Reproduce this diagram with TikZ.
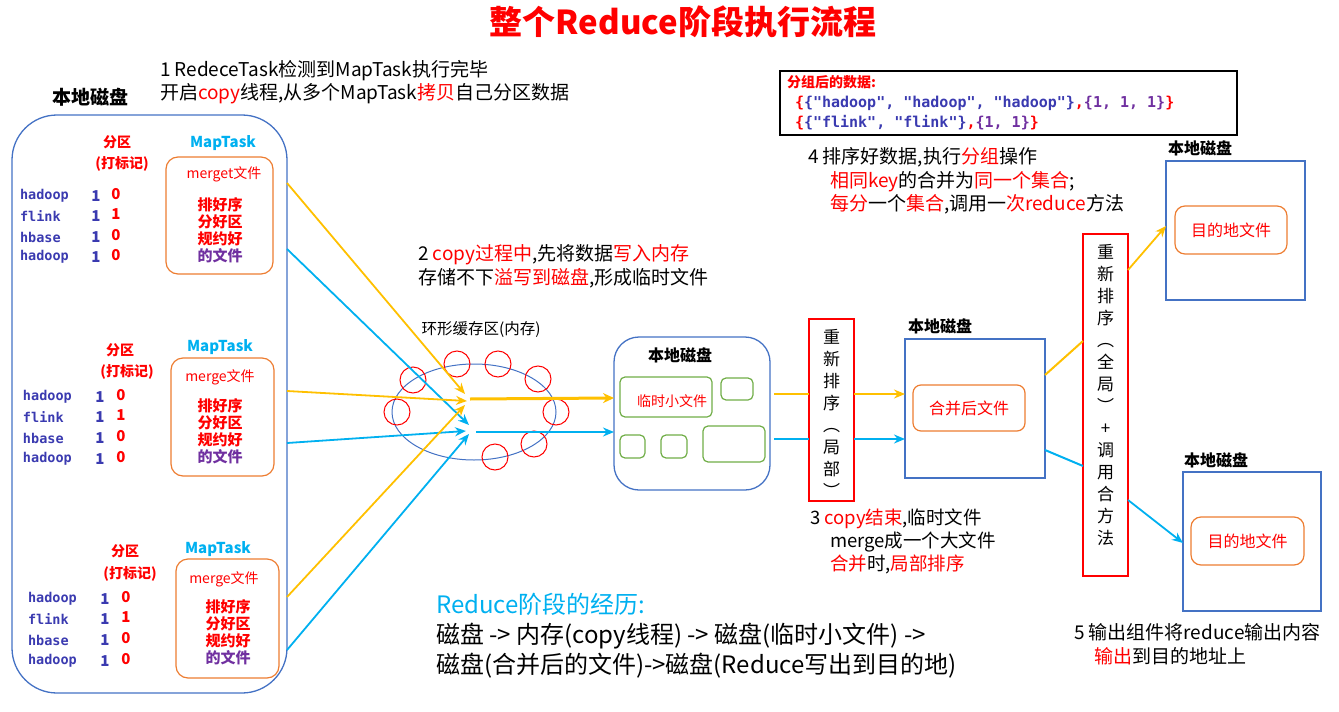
\documentclass[tikz,border=0pt]{standalone}
\usepackage{fontspec}
\setmainfont{Noto Sans CJK SC}
\newfontfamily\mono{DejaVu Sans Mono}
\usetikzlibrary{arrows.meta,shapes.geometric}
\definecolor{cblue}{HTML}{4472C4}
\definecolor{cyanb}{HTML}{00B0F0}
\definecolor{yel}{HTML}{FFC000}
\definecolor{org}{HTML}{ED7D31}
\definecolor{grn}{HTML}{70AD47}
\definecolor{lblue}{HTML}{3A3AB0}
\definecolor{purp}{HTML}{7030A0}
\begin{document}
\begin{tikzpicture}[x=1pt,y=-1pt,
  every node/.style={inner sep=0pt,outer sep=0pt},
  steptxt/.style={anchor=west,align=left,font=\fontsize{19}{23.5}\selectfont},
  bluebox/.style={draw=cblue,line width=1.3pt},
  orbox/.style={draw=org,line width=1.2pt,rounded corners=12pt},
  grbox/.style={draw=grn,line width=1.2pt,rounded corners=5pt},
  rbox/.style={draw=red,line width=1.2pt},
  ringc/.style={circle,draw=red,line width=1pt,minimum size=26pt},
  ya/.style={draw=yel,line width=1.8pt,-{Stealth[length=11pt,width=9pt]}},
  ba/.style={draw=cyanb,line width=1.8pt,-{Stealth[length=11pt,width=9pt]}},
  yl/.style={draw=yel,line width=2pt},
  bl/.style={draw=cyanb,line width=2pt},
  diskl/.style={font=\fontsize{16}{18}\selectfont\bfseries},
  lw/.style={anchor=west,text=lblue,font={\mono\fontsize{13.5}{15}\selectfont\bfseries}},
  lone/.style={text=lblue,font=\fontsize{15}{16}\selectfont\bfseries},
  lzero/.style={text=red,font=\fontsize{15}{16}\selectfont\bfseries},
  fq/.style={text=red,font=\fontsize{14}{16}\selectfont\bfseries},
  mtl/.style={text=cyanb,font=\fontsize{15}{17}\selectfont\bfseries},
  mfl/.style={text=red,font=\fontsize{14}{16}\selectfont},
  stk/.style={align=center,text=red,font=\fontsize{15}{17}\selectfont\bfseries},
  vtxt/.style={align=center,font=\fontsize{17}{22}\selectfont},
  codel/.style={anchor=west,font={\mono\fontsize{15}{16}\selectfont\bfseries}}
]
\useasboundingbox (0,0) rectangle (1339,712);

% title
\node[font=\fontsize{33}{36}\selectfont\bfseries,text=red] (title) at (683,22) {整个Reduce阶段执行流程};

% step 1
\node[steptxt] (s1) at (160,82) {1 RedeceTask检测到MapTask执行完毕\\开启\textcolor{red}{copy}线程,从多个MapTask\textcolor{red}{拷贝}自己分区数据};

% left disk
\node[font=\fontsize{19}{22}\selectfont\bfseries] (ldl) at (90,97) {本地磁盘};
\node[bluebox,rounded corners=45pt,minimum width=275pt,minimum height=578pt] (ldisk) at (149.5,404) {};

% group labels
\node[fq] (fq1) at (117,142) {分区};
\node[fq] (bj1) at (122,164) {(打标记)};
\node[mtl] (mt1) at (223,143) {MapTask};
\node[orbox,minimum width=107pt,minimum height=117pt] (mb1) at (219.5,215.5) {};
\node[mfl] (mf1) at (224,174) {merget文件};
\node[stk] (sk1) at (220,230) {排好序\\分好区\\规约好\\\textcolor{purp}{的文件}};

\node[fq] (fq2) at (120,350) {分区};
\node[fq] (bj2) at (127,372) {(打标记)};
\node[mtl] (mt2) at (220,347) {MapTask};
\node[orbox,minimum width=103pt,minimum height=118pt] (mb2) at (222.5,417) {};
\node[mfl] (mf2) at (220,377) {merge文件};
\node[stk] (sk2) at (220,431.5) {排好序\\分好区\\规约好\\\textcolor{purp}{的文件}};

\node[fq] (fq3) at (125,551) {分区};
\node[fq] (bj3) at (130,574) {(打标记)};
\node[mtl] (mt3) at (218,549) {MapTask};
\node[orbox,minimum width=103pt,minimum height=119pt] (mb3) at (227.5,618.5) {};
\node[mfl] (mf3) at (224,579) {merge文件};
\node[stk] (sk3) at (228,632.5) {排好序\\分好区\\规约好\\\textcolor{purp}{的文件}};

\foreach \nm/\w/\v/\xx/\xo/\xz/\yy in {
  a1/hadoop/0/20/96/116/196, a2/flink/1/20/96/116/216, a3/hbase/0/20/96/116/237, a4/hadoop/0/20/96/116/257,
  b1/hadoop/0/23/100/121/397, b2/flink/1/23/100/121/417, b3/hbase/0/23/100/121/438, b4/hadoop/0/23/100/121/459,
  c1/hadoop/0/28/105/126/599, c2/flink/1/28/105/126/619, c3/hbase/0/28/105/126/640, c4/hadoop/0/28/105/126/661}{
  \node[lw] (w\nm) at (\xx,\yy) {\w};
  \node[lone] (o\nm) at (\xo,\yy) {1};
  \node[lzero] (z\nm) at (\xz,\yy-2) {\v};
}

% step 2
\node[steptxt] (s2) at (418,266.5) {2 \textcolor{red}{copy过程中},先将数据\textcolor{red}{写入内存}\\存储不下\textcolor{red}{溢写到磁盘},形成临时文件};

% ring buffer
\node[font=\fontsize{15.5}{18}\selectfont] (rl) at (481,330) {环形缓存区(内存)};
\node[ellipse,draw=cblue,line width=1pt,minimum width=164pt,minimum height=96pt] (ring) at (474,412) {};
\node[ringc] (rc1) at (413,380) {};
\node[ringc] (rc2) at (397,412) {};
\node[ringc] (rc3) at (457,364) {};
\node[ringc] (rc4) at (498,364) {};
\node[ringc] (rc5) at (538,379) {};
\node[ringc] (rc6) at (556,412) {};
\node[ringc] (rc7) at (534,444) {};
\node[ringc] (rc8) at (495,457) {};

% arrows into ring
\coordinate (s1y) at (287,183); \coordinate (s1b) at (287,249);
\coordinate (s2y) at (287,391); \coordinate (s2b) at (287,443);
\coordinate (s3y) at (287,597); \coordinate (s3b) at (287,650);
\coordinate (e1y) at (465,394); \coordinate (e2y) at (467,401); \coordinate (e3y) at (465,405);
\coordinate (e1b) at (469,425); \coordinate (e2b) at (466,431); \coordinate (e3b) at (469,434);
\draw[ya] (s1y) -- (e1y);
\draw[ba] (s1b) -- (e1b);
\draw[ya] (s2y) -- (e2y);
\draw[ba] (s2b) -- (e2b);
\draw[ya] (s3y) -- (e3y);
\draw[ba] (s3b) -- (e3b);

% middle disk
\node[bluebox,rounded corners=25pt,minimum width=156pt,minimum height=153pt] (md) at (692,413.5) {};
\node[diskl] (mdl) at (680,355) {本地磁盘};
\node[grbox,minimum width=92pt,minimum height=40pt] (t1) at (666,397) {};
\node[text=red,font=\fontsize{14}{16}\selectfont] (t1l) at (672,401) {临时小文件};
\node[grbox,minimum width=32pt,minimum height=22pt] (t2) at (737,389) {};
\node[grbox,minimum width=25pt,minimum height=23pt] (t3) at (632.5,446.5) {};
\node[grbox,minimum width=26pt,minimum height=23pt] (t4) at (674,446.5) {};
\node[grbox,minimum width=62pt,minimum height=36pt] (t5) at (734,444) {};

% ring to middle disk
\coordinate (o1) at (470,399); \coordinate (o2) at (476,432);
\draw[draw=yel,line width=3pt,-{Stealth[length=11pt,width=10pt]}] (o1) -- (md.west |- 0,398);
\draw[draw=cyanb,line width=2pt,-{Stealth[length=11pt,width=9pt]}] (o2) -- (md.west |- 0,432);

% local sort box
\node[rbox,minimum width=45pt,minimum height=182pt] (r1) at (831.5,410) {};
\node[vtxt] (r1t) at (831.5,413) {重\\新\\排\\序\\︵\\局\\部\\︶};
\coordinate (m1a) at (774,394); \coordinate (m2a) at (774,439);
\draw[yl] (m1a) -- (r1.west |- m1a);
\draw[bl] (m2a) -- (r1.west |- m2a);

% merged disk
\node[diskl] (mbl) at (940,326) {本地磁盘};
\node[bluebox,minimum width=140pt,minimum height=139pt] (mb) at (975,408.5) {};
\node[orbox,rounded corners=8pt,minimum width=112pt,minimum height=46pt] (mf) at (969,408) {};
\node[text=red,font=\fontsize{16}{18}\selectfont] (mfl) at (969,408) {合并后文件};
\draw[ya] (r1.east |- m1a) -- (mb.west |- m1a);
\draw[ba] (r1.east |- m2a) -- (mb.west |- m2a);

% step 3
\node[steptxt,font=\fontsize{18.5}{23}\selectfont] (s3) at (810,541) {3 \textcolor{red}{copy结束},临时文件\\\hspace*{20pt}merge成一个大文件\\\hspace*{20pt}\textcolor{red}{合并}时,\textcolor{red}{局部排序}};

% grouped data box
\node[draw,line width=1.2pt,minimum width=457pt,minimum height=64pt] (gb) at (1008.5,103) {};
\node[anchor=west,text=red,font=\fontsize{14}{16}\selectfont\bfseries] (gbt) at (787,82) {分组后的数据:};
\node[codel] (gc1) at (795,103) {\textcolor{red}{\{}\textcolor{lblue}{\{"hadoop", "hadoop", "hadoop"\}}\textcolor{red}{,}\textcolor{purp}{\{1, 1, 1\}}\textcolor{red}{\}}};
\node[codel] (gc2) at (795,123) {\textcolor{red}{\{}\textcolor{lblue}{\{"flink", "flink"\}}\textcolor{red}{,}\textcolor{purp}{\{1, 1\}}\textcolor{red}{\}}};

% step 4
\node[steptxt] (s4) at (808,181) {4 排序好数据,执行\textcolor{red}{分组}操作\\\hspace*{22pt}\textcolor{red}{相同key}的合并为\textcolor{red}{同一个集合};\\\hspace*{22pt}\textcolor{red}{每分}一个\textcolor{red}{集合},调用一\textcolor{red}{次reduce}方法};

% global sort box
\node[rbox,minimum width=45pt,minimum height=342pt] (r2) at (1105.5,405) {};
\node[vtxt] (r2t) at (1105.5,395) {重\\新\\排\\序\\︵\\全\\局\\︶\\+\\调\\用\\合\\方\\法};
\coordinate (n1) at (1045,375); \coordinate (n2) at (1045,450);
\draw[yl] (n1) -- (r2.west |- 0,341);
\draw[bl] (n2) -- (r2.west |- 0,466);

% destination disks
\node[diskl] (trl) at (1200,148) {本地磁盘};
\node[bluebox,minimum width=139pt,minimum height=139pt] (tr) at (1235.5,230.5) {};
\node[orbox,rounded corners=10pt,minimum width=112pt,minimum height=48pt] (trf) at (1231,230) {};
\node[text=red,font=\fontsize{16}{18}\selectfont] (trfl) at (1231,230) {目的地文件};

\node[diskl] (brl) at (1216,460) {本地磁盘};
\node[bluebox,minimum width=138pt,minimum height=139pt] (br) at (1252,541.5) {};
\node[orbox,rounded corners=10pt,minimum width=113pt,minimum height=48pt] (brf) at (1247.5,541) {};
\node[text=red,font=\fontsize{16}{18}\selectfont] (brfl) at (1247.5,541) {目的地文件};

\coordinate (q1) at (1128,270); \coordinate (q2) at (1128,500);
\draw[ya] (q1) -- (tr.west |- 0,226);
\draw[ba] (q2) -- (br.west |- 0,543);

% step 5
\node[steptxt,font=\fontsize{19}{24}\selectfont] (s5) at (1074,644) {5 输出组件将reduce输出内容\\\hspace*{20pt}\textcolor{red}{输出}到目的地址上};

% summary
\node[anchor=west,align=left,font=\fontsize{24}{30}\selectfont] (sum) at (436,636) {\spaceskip=0.45em\relax\textcolor{cyanb}{Reduce阶段的经历:}\\磁盘 -> 内存(copy线程) -> 磁盘(临时小文件) ->\\磁盘(合并后的文件)->磁盘(Reduce写出到目的地)};
\end{tikzpicture}
\end{document}
